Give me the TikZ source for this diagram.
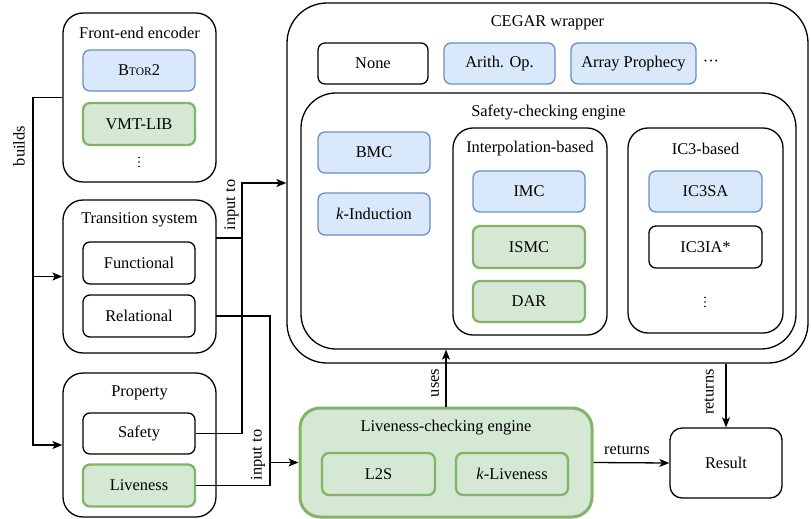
\documentclass[tikz,border=0pt]{standalone}
\usepackage{fontspec}
\setmainfont{Liberation Serif}
\usetikzlibrary{arrows.meta,calc}
\definecolor{bluefill}{HTML}{DAE8FC}
\definecolor{blueline}{HTML}{6C8EBF}
\definecolor{greenfill}{HTML}{D5E8D4}
\definecolor{greenline}{HTML}{82B366}
\tikzset{
  txt/.style={font=\fontsize{16.4}{19}\selectfont, inner sep=0pt},
  group/.style={draw, line width=1.3pt, rounded corners=20pt, fill=white},
  item/.style={draw, line width=1.3pt, rounded corners=7pt, fill=white,
    font=\fontsize{16.4}{19}\selectfont, minimum width=112pt, minimum height=41pt, inner sep=0pt},
  blueitem/.style={item, fill=bluefill, draw=blueline},
  greenitem/.style={item, fill=greenfill, draw=greenline, line width=2.3pt},
  conn/.style={line width=1.3pt},
  arr/.style={conn, -{Stealth[length=10pt,width=8pt,inset=2.5pt]}},
}
% three small dots stacked vertically, centred on the given point
\newcommand\vdotsat[1]{%
  \foreach \dy in {-4.5,0,4.5} {\fill ($(#1)+(0,\dy)$) circle (0.9pt);}}
\begin{document}
\begin{tikzpicture}[x=1pt, y=-1pt]
\useasboundingbox (0,0) rectangle (811,519);

% Front-end encoder
\node[group, minimum width=153pt, minimum height=169pt] (fe) at (139.5,97.5) {};
\node[txt] (feT) at (139.5,33) {Front-end encoder};
\node[blueitem] (btor) at (139,70.5) {B{\fontsize{11.5}{13}\selectfont TOR}2};
\node[greenitem, minimum height=42pt] (vmt) at (139,124) {VMT-LIB};
\coordinate (feD) at (139,162);
\vdotsat{feD}

% Transition system
\node[group, minimum width=153pt, minimum height=153pt] (ts) at (139.5,276.5) {};
\node[txt] (tsT) at (139.5,220) {Transition system};
\node[item, minimum height=42pt] (func) at (139,263) {Functional};
\node[item, minimum height=42pt] (rel) at (139,316) {Relational};

% Property
\node[group, minimum width=153pt, minimum height=144pt] (prop) at (139.5,445) {};
\node[txt] (propT) at (139.5,393) {Property};
\node[item] (safety) at (139,433.5) {Safety};
\node[greenitem, minimum height=42pt] (live) at (139,485.5) {Liveness};

% CEGAR wrapper
\node[group, rounded corners=40pt, minimum width=521pt, minimum height=360pt] (cegar) at (547.5,183) {};
\node[txt] (cegarT) at (547.5,23) {CEGAR wrapper};
\node[item, minimum width=110pt] (none) at (373,63.5) {None};
\node[blueitem, minimum width=111pt] (arith) at (499.5,63.5) {Arith. Op.};
\node[blueitem, minimum width=125pt] (aproph) at (633.5,63.5) {Array Prophecy};
\node[txt] (cegarD) at (711,63) {···};

% Safety-checking engine
\node[group, rounded corners=35pt, minimum width=495pt, minimum height=256pt] (safe) at (548.5,221) {};
\node[txt] (safeT) at (548.5,112) {Safety-checking engine};
\node[blueitem] (bmc) at (374,152.5) {BMC};
\node[blueitem, minimum height=42pt] (kind) at (374,214) {\textit{k}-Induction};

\node[group, minimum width=154pt, minimum height=207pt] (interp) at (530,231.5) {};
\node[txt] (interpT) at (530,149) {Interpolation-based};
\node[blueitem] (imc) at (529,191.5) {IMC};
\node[greenitem, minimum height=42pt] (ismc) at (529,247) {ISMC};
\node[greenitem] (dar) at (529,301.5) {DAR};

\node[group, minimum width=155pt, minimum height=205pt] (ic3) at (705.5,230.5) {};
\node[txt] (ic3T) at (705.5,149) {IC3-based};
\node[blueitem, minimum width=113pt] (ic3sa) at (705.5,191.5) {IC3SA};
\node[item, minimum width=113pt, minimum height=42pt] (ic3ia) at (705.5,247) {IC3IA*};
\coordinate (ic3D) at (705,302);
\vdotsat{ic3D}

% Liveness-checking engine
\node[group, fill=greenfill, draw=greenline, line width=3pt, minimum width=292pt, minimum height=109pt] (leng) at (446,462.5) {};
\node[txt] (lengT) at (446,428) {Liveness-checking engine};
\node[greenitem, minimum width=113pt, minimum height=42pt] (l2s) at (378.5,474) {L2S};
\node[greenitem, minimum width=112pt, minimum height=42pt] (kliv) at (512,474) {\textit{k}-Liveness};

% Result
\node[item, rounded corners=12pt, minimum height=70pt] (result) at (726,463) {Result};

% builds
\coordinate (bt) at (33,97.5);
\coordinate (bb) at (33,445);
\draw[arr] (fe.west) -- (bt) -- (bb) -- (prop.west);
\draw[arr] (ts.west -| bt) -- (ts.west);
\node[txt, rotate=90] (buildsL) at (19,146) {builds};

% input to (safety engine)
\coordinate (tsout) at (216,238);
\coordinate (jtop) at (242,183);
\draw[arr] (tsout) -| (jtop) -- (cegar.west);
\draw[conn] (safety.east) -| (jtop);
\node[txt, rotate=90] (inL1) at (231.5,205) {input to};

% input to (liveness engine)
\coordinate (relout) at (216,316);
\coordinate (jbot) at (270,462.5);
\draw[conn] (relout) -| (jbot);
\draw[conn] (live.east) -| (jbot);
\draw[arr] (jbot) -- (leng.west);
\node[txt, rotate=90] (inL2) at (258,455) {input to};

% uses
\draw[arr] (leng.north) -- (leng.north |- safe.south);
\node[txt, rotate=90] (usesL) at (435,383) {uses};

% returns
\draw[arr] (result.north |- cegar.south) -- (result.north);
\node[txt, rotate=90] (retL1) at (709,392) {returns};
\draw[arr] (leng.east) -- (result.west);
\node[txt] (retL2) at (627,450) {returns};
\end{tikzpicture}
\end{document}
